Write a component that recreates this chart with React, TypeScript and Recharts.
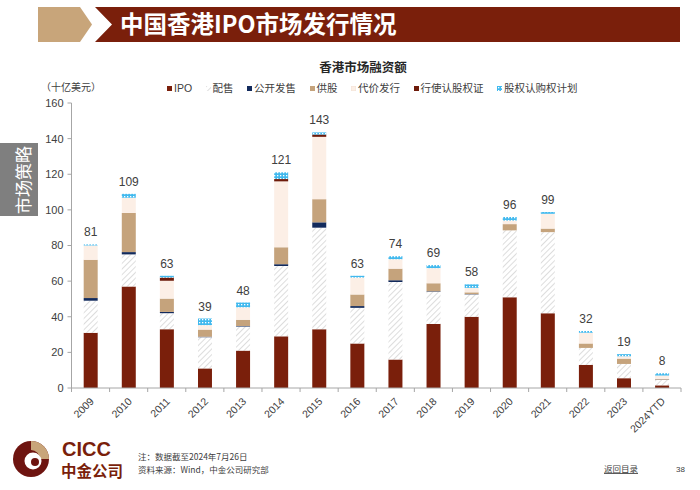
import React from 'react';
import { BarChart, Bar, XAxis, YAxis, LabelList, Legend } from 'recharts';

const years = ['2009', '2010', '2011', '2012', '2013', '2014', '2015', '2016', '2017', '2018', '2019', '2020', '2021', '2022', '2023', '2024YTD'];
const ipo = [31, 57, 33, 11, 21, 29, 33, 25, 16, 36, 40, 51, 42, 13, 5.5, 1.5];
const placement = [18, 18, 9, 17.5, 13.5, 39.5, 57, 20, 43.5, 18, 12.5, 37.5, 45.5, 9.5, 8, 3];
const publicOffer = [1.5, 1.3, 0.7, 0.3, 0.3, 1, 3, 1, 1, 0.3, 0.2, 0, 0, 0, 0, 0.2];
const rights = [21.5, 22, 7.5, 4, 3.5, 9.5, 13, 6.5, 6.5, 4.5, 1, 3.5, 2, 2.5, 3, 0.3];
const consideration = [8, 8.5, 10, 2.5, 7, 37, 35, 9.5, 5.3, 8.5, 2.5, 2, 8.3, 6, 1.3, 2];
const warrants = [0, 0, 1.8, 0, 0, 1.3, 1.3, 0, 0, 0, 0, 0, 0, 0, 0, 0];
const shareOption = [0.6, 2.2, 1, 3.7, 2.7, 3.8, 1.2, 1, 1.7, 1.7, 2, 2, 1, 1, 1.2, 1.3];
const totals = [81, 109, 63, 39, 48, 121, 143, 63, 74, 69, 58, 96, 99, 32, 19, 8];
const yTicks = [0, 20, 40, 60, 80, 100, 120, 140, 160];

const SERIES = [
  { key: 'ipo', name: 'IPO', fill: '#7A1F0B' },
  { key: 'placement', name: '配售', fill: 'url(#hatchP)' },
  { key: 'publicOffer', name: '公开发售', fill: '#122A5C' },
  { key: 'rights', name: '供股', fill: '#C5A37C' },
  { key: 'consideration', name: '代价发行', fill: '#FCEFE6' },
  { key: 'warrants', name: '行使认股权证', fill: '#6E1B0A' },
  { key: 'shareOption', name: '股权认购权计划', fill: 'url(#dotsB)' },
];

const data = years.map((y, i) => ({
  year: y,
  ipo: ipo[i],
  placement: placement[i],
  publicOffer: publicOffer[i],
  rights: rights[i],
  consideration: consideration[i],
  warrants: warrants[i],
  shareOption: shareOption[i],
  total: totals[i],
}));

const W = 700;
const H = 490;
const M = { top: 103, right: 19, bottom: 42, left: 31.5 };
const Y_W = 40;
const X_H = 60;
const HALF_BAND = (W - M.left - M.right - Y_W) / years.length / 2;

const LATIN = '"Liberation Sans", Arial, sans-serif';
const CJK = '"Noto Sans CJK SC", "Liberation Sans", sans-serif';

function XTick(props: any) {
  const { x, y, payload, index } = props;
  const last = index === years.length - 1;
  return (
    <g>
      <line x1={x - HALF_BAND} x2={x - HALF_BAND} y1={y} y2={y + 4} stroke="#A6A6A6" />
      {last && <line x1={x + HALF_BAND} x2={x + HALF_BAND} y1={y} y2={y + 4} stroke="#A6A6A6" />}
      <text
        transform={`translate(${x + 4},${y + 14}) rotate(-45)`}
        textAnchor="end"
        fontSize={10.5}
        fontFamily={LATIN}
        fill="#404040"
      >
        {payload.value}
      </text>
    </g>
  );
}

function LegendRow() {
  return (
    <div style={{ display: 'flex', alignItems: 'center', paddingLeft: 167, fontFamily: CJK, fontSize: 10.5, color: '#404040', lineHeight: '14px' }}>
      {SERIES.map((s) => (
        <div key={s.key} style={{ display: 'flex', alignItems: 'center', marginRight: 13.5 }}>
          <svg width={5} height={5} style={{ marginRight: 2 }}>
            <rect width={5} height={5} fill={s.fill} stroke={s.key === 'consideration' ? '#F3E2D6' : 'none'} />
          </svg>
          <span style={{ fontFamily: s.key === 'ipo' ? LATIN : CJK }}>{s.name}</span>
        </div>
      ))}
    </div>
  );
}

export default function App() {
  return (
    <div style={{ position: 'absolute', left: 0, top: 0, width: W, height: H, background: '#fff', overflow: 'hidden' }}>
      <svg width={W} height={H} style={{ position: 'absolute', left: 0, top: 0 }}>
        <polygon points="38,7 80,7 92,24.5 80,42 38,42" fill="#C8A57A" />
        <polygon points="95,7 680,7 680,42 95,42 112,24.5" fill="#7A1F0B" />
        <text x={120} y={32.5} fill="#fff" fontSize={23.5} fontWeight="bold" fontFamily={CJK}>中国香港IPO市场发行情况</text>
        <rect x={0} y={143} width={38} height={73} fill="#7F7F7F" />
        <text transform="translate(30,180) rotate(-90)" textAnchor="middle" fill="#fff" fontSize={17} fontFamily={CJK}>市场策略</text>
        <text x={363} y={72} textAnchor="middle" fontSize={12.5} fontWeight="bold" fontFamily={CJK} fill="#262626">香港市场融资额</text>
        <text x={41} y={91} fontSize={10} fontFamily={CJK} fill="#404040">（十亿美元）</text>
        {/* logo */}
        <circle cx={31} cy={459} r={18} fill="#6E1410" />
        <path d="M31,441 A18,18 0 0 1 49,459 L40,459 A9,9 0 0 0 31,450 Z" fill="#C8A57A" />
        <circle cx={33} cy={461} r={8.5} fill="#fff" />
        <circle cx={35} cy={462} r={4} fill="#6E1410" />
        <text x={62} y={456} fontSize={20} fontWeight="bold" fontFamily={LATIN} fill="#7A1F0B">CICC</text>
        <text x={61} y={477} fontSize={15.5} fontWeight="bold" fontFamily={CJK} fill="#7A1F0B">中金公司</text>
        <text x={138} y={460} fontSize={8.5} fontFamily={CJK} fill="#404040">注：数据截至2024年7月26日</text>
        <text x={138} y={473} fontSize={8.5} fontFamily={CJK} fill="#404040">资料来源：Wind，中金公司研究部</text>
        <text x={604} y={472} fontSize={8.5} fontFamily={CJK} fill="#404040" textDecoration="underline">返回目录</text>
        <text x={676} y={472} fontSize={8} fontFamily={LATIN} fill="#404040">38</text>
      </svg>
      <div style={{ position: 'absolute', left: 0, top: 0 }}>
        <BarChart width={W} height={H} data={data} margin={M} barCategoryGap="32%">
          <defs>
            <pattern id="hatchP" width={4} height={4} patternUnits="userSpaceOnUse" patternTransform="rotate(45)">
              <rect width={4} height={4} fill="#FFFFFF" />
              <line x1={0} y1={0} x2={0} y2={4} stroke="#CBCBCB" strokeWidth={1.3} />
            </pattern>
            <pattern id="dotsB" width={3} height={3} patternUnits="userSpaceOnUse">
              <rect width={3} height={3} fill="#41B9EE" />
              <rect x={1} y={1} width={1.3} height={1.3} fill="#FFFFFF" />
            </pattern>
          </defs>
          <XAxis
            dataKey="year"
            interval={0}
            height={X_H}
            tickLine={false}
            tickSize={0}
            tickMargin={0}
            axisLine={{ stroke: '#A6A6A6' }}
            tick={<XTick />}
          />
          <YAxis
            width={Y_W}
            domain={[0, 160]}
            ticks={yTicks}
            interval={0}
            tickSize={4}
            tickMargin={4}
            axisLine={{ stroke: '#A6A6A6' }}
            tickLine={{ stroke: '#A6A6A6' }}
            tick={{ fontSize: 11, fontFamily: LATIN, fill: '#404040' }}
          />
          <Legend
            layout="vertical"
            align="center"
            verticalAlign="middle"
            wrapperStyle={{ position: 'absolute', top: 81, left: 0, width: W, height: 16 }}
            content={() => <LegendRow />}
          />
          {SERIES.map((s, i) => (
            <Bar key={s.key} dataKey={s.key} name={s.name} stackId="a" fill={s.fill} isAnimationActive={false}>
              {i === SERIES.length - 1 && (
                <LabelList dataKey="total" position="top" offset={8} fontSize={12} fontFamily={LATIN} fill="#404040" />
              )}
            </Bar>
          ))}
        </BarChart>
      </div>
    </div>
  );
}
